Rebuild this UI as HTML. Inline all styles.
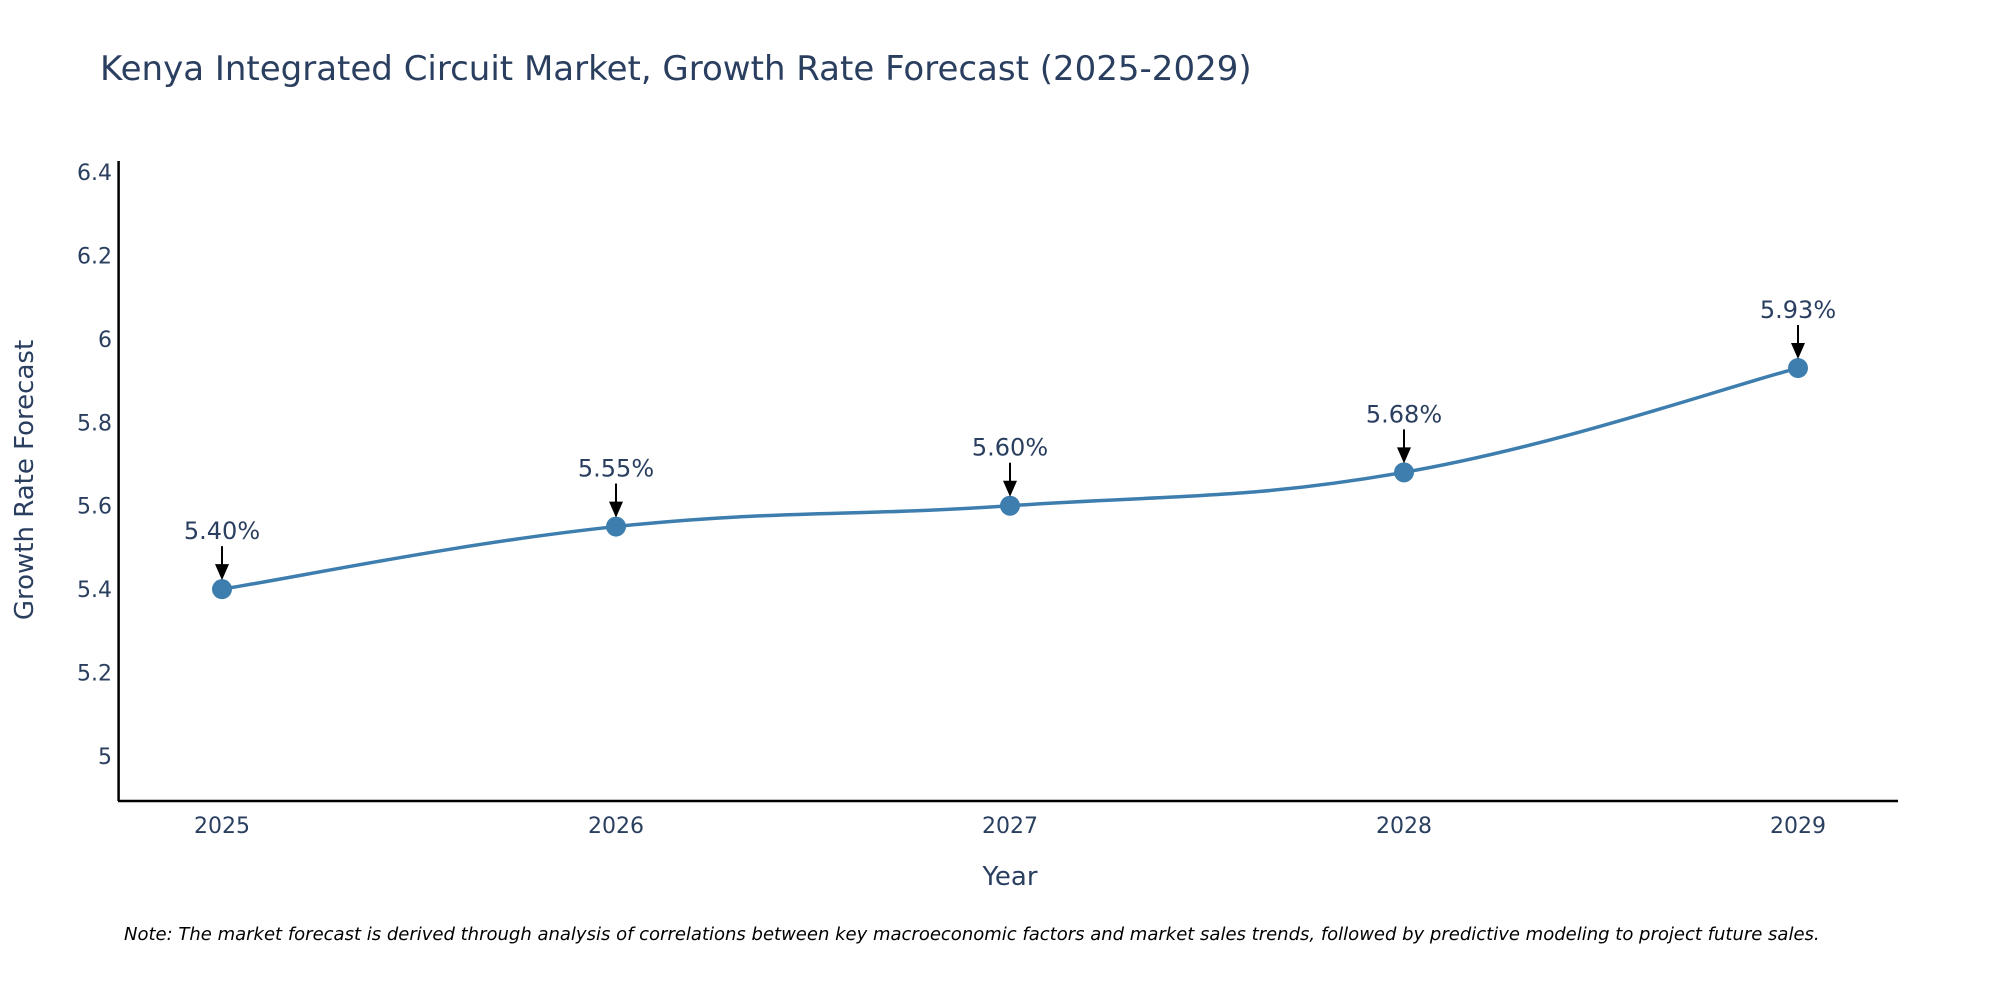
<!DOCTYPE html>
<html><head><meta charset="utf-8"><style>
body{margin:0;background:#fff;}
svg{display:block;font-family:"DejaVu Sans","Liberation Sans",sans-serif;}
</style></head><body>
<svg id="chart" width="2000" height="1000" viewBox="0 0 2000 1000">
<rect width="2000" height="1000" fill="#fff"/>
<text x="100" y="80" font-size="34" fill="#2a3f5f">Kenya Integrated Circuit Market, Growth Rate Forecast (2025-2029)</text>
<g id="yticks"></g><g id="xticks"></g>
<line x1="118.6" y1="161" x2="118.6" y2="801" stroke="#000" stroke-width="2.5"/>
<line x1="118" y1="801" x2="1898" y2="801" stroke="#000" stroke-width="2.5"/>
<text transform="translate(33,480) rotate(-90)" text-anchor="middle" font-size="26" fill="#2a3f5f">Growth Rate Forecast</text>
<text x="1010" y="885" text-anchor="middle" font-size="26" fill="#2a3f5f">Year</text>
<g id="plot"></g>
<text x="124" y="940" font-size="18" font-style="italic" fill="#000">Note: The market forecast is derived through analysis of correlations between key macroeconomic factors and market sales trends, followed by predictive modeling to project future sales.</text>
</svg>
<script>
const years=[2025,2026,2027,2028,2029];
const rates=[5.40,5.55,5.60,5.68,5.93];
const yTickVals=[5,5.2,5.4,5.6,5.8,6,6.2,6.4];
const yTickLabels=["5","5.2","5.4","5.6","5.8","6","6.2","6.4"];
const NS="http://www.w3.org/2000/svg";
const x=v=>222+(v-2025)*(1798-222)/4;
const y=v=>756-(v-5)*(756-172)/1.4;
function mk(t,a,p){const e=document.createElementNS(NS,t);for(const k in a)e.setAttribute(k,a[k]);p.appendChild(e);return e;}
const yt=document.getElementById('yticks');
yTickVals.forEach((v,i)=>{const t=mk('text',{x:112,y:y(v)+8,'text-anchor':'end','font-size':22,fill:'#2a3f5f'},yt);t.textContent=yTickLabels[i];

});
const xt=document.getElementById('xticks');
years.forEach(v=>{const t=mk('text',{x:x(v),y:833,'text-anchor':'middle','font-size':22,fill:'#2a3f5f'},xt);t.textContent=String(v);

});
const g=document.getElementById('plot');
const pts=years.map((v,i)=>[x(v),y(rates[i])]);
let d='M'+pts[0][0]+','+pts[0][1];
const s=0.2;
for(let i=0;i<pts.length-1;i++){const p0=pts[Math.max(0,i-1)],p1=pts[i],p2=pts[i+1],p3=pts[Math.min(pts.length-1,i+2)];
const c1=[p1[0]+(p2[0]-p0[0])*s,p1[1]+(p2[1]-p0[1])*s],c2=[p2[0]-(p3[0]-p1[0])*s,p2[1]-(p3[1]-p1[1])*s];
d+=` C${c1[0]},${c1[1]} ${c2[0]},${c2[1]} ${p2[0]},${p2[1]}`;}
const line=mk('path',{d:d,fill:'none',stroke:'#3d7eae','stroke-width':3.5},g);


pts.forEach((p,i)=>{
const c=mk('circle',{cx:p[0],cy:p[1],r:10,fill:'#3d7eae'},g);


const a=mk('line',{x1:p[0],y1:p[1]-43,x2:p[0],y2:p[1]-24,stroke:'#000','stroke-width':2},g);


const h=mk('path',{d:`M${p[0]-7},${p[1]-25} L${p[0]+7},${p[1]-25} L${p[0]},${p[1]-9} Z`,fill:'#000'},g);


const t=mk('text',{x:p[0],y:p[1]-50,'text-anchor':'middle','font-size':24,fill:'#2a3f5f'},g);
t.textContent=rates[i].toFixed(2)+'%';

});
</script>
</body></html>
